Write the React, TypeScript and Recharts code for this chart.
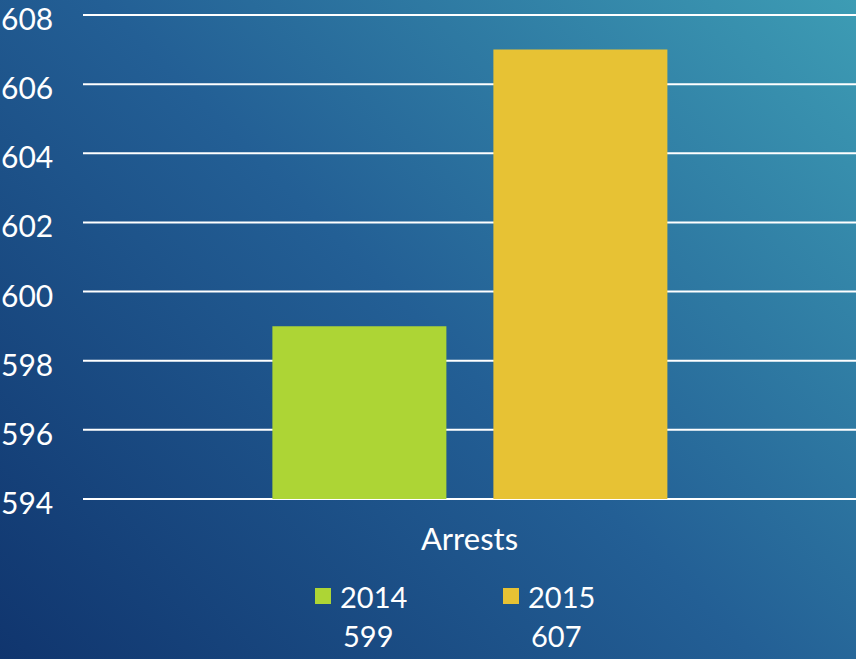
import { Bar, BarChart, CartesianGrid, Legend, XAxis, YAxis } from 'recharts';

const categories = ['Arrests'];
const seriesNames = ['2014', '2015'];
const values2014 = [599];
const values2015 = [607];
const yTicks = [594, 596, 598, 600, 602, 604, 606, 608];

const colors: Record<string, string> = { '2014': '#ADD535', '2015': '#E7C234' };
const font = 'Lato, "DejaVu Sans", sans-serif';

const chartData = categories.map((c, i) => ({
  name: c,
  '2014': values2014[i],
  '2015': values2015[i],
}));

function YTick({ y, payload }: any) {
  return (
    <text x={1} y={y + 3} fill='#fff' fontSize={30} fontFamily={font} textAnchor='start' dominantBaseline='central'>
      {payload.value}
    </text>
  );
}

function LegendTable() {
  return (
    <div style={{ display: 'flex', fontFamily: font, color: '#fff', height: 75 }}>
      {seriesNames.map((s) => (
        <div key={s} style={{ width: 188 }}>
          <div style={{ display: 'flex', alignItems: 'center', height: 36 }}>
            <span style={{ width: 16, height: 16, background: colors[s], marginRight: 9 }} />
            <span style={{ fontSize: 29 }}>{s}</span>
          </div>
          <div style={{ fontSize: 29, paddingLeft: 28, marginTop: 4 }}>{chartData[0][s as '2014']}</div>
        </div>
      ))}
    </div>
  );
}

export default function App() {
  return (
    <div
      style={{
        position: 'absolute',
        left: 0,
        top: 0,
        width: 856,
        height: 659,
        background: 'linear-gradient(45deg, #10356e 0%, #235f95 50%, #3d9cb4 100%)',
      }}
    >
      <BarChart
        width={856}
        height={659}
        data={chartData}
        margin={{ top: 15, right: 0, bottom: 15, left: 0 }}
        barCategoryGap='24.5%'
        barGap={47}
      >
        <CartesianGrid vertical={false} stroke='#fff' strokeWidth={2} />
        <XAxis
          dataKey='name'
          axisLine={false}
          tickLine={false}
          tickSize={0}
          tickMargin={29}
          height={70}
          tick={{ fill: '#fff', fontSize: 31, fontFamily: font }}
        />
        <YAxis
          domain={[594, 608]}
          ticks={yTicks}
          width={83}
          axisLine={false}
          tickLine={false}
          tick={<YTick />}
        />
        <Legend
          content={<LegendTable />}
          wrapperStyle={{ left: 315, top: 578, width: 400, bottom: 'auto' }}
        />
        {seriesNames.map((s) => (
          <Bar key={s} dataKey={s} fill={colors[s]} isAnimationActive={false} />
        ))}
      </BarChart>
    </div>
  );
}
